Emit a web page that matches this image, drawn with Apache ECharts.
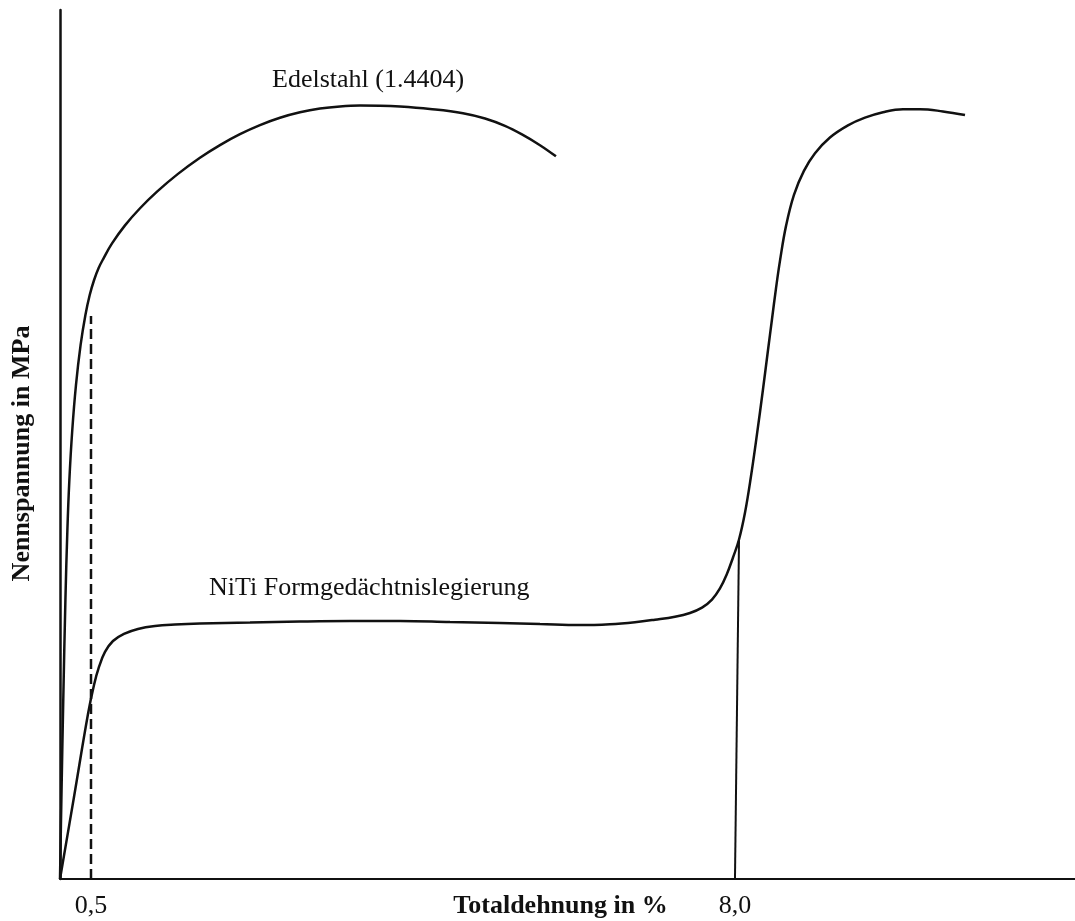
<!DOCTYPE html>
<html>
<head>
<meta charset="utf-8">
<script src="https://cdn.jsdelivr.net/npm/echarts@6/dist/echarts.min.js"></script>
<style>
  html, body { margin: 0; padding: 0; background: #fff; }
  #chart { width: 1075px; height: 921px; }
</style>
</head>
<body>
<div id="chart"></div>
<script>
// Strain in %, nominal stress in MPa (schematic)
const xTickValues = [0.5, 8.0];
const steelCurve = [
  [0.139, 0], [0.155, 63.6], [0.177, 144.2], [0.202, 224.7], [0.225, 281.1],
  [0.248, 321.4], [0.282, 361.7], [0.325, 397.9], [0.379, 430.2], [0.435, 454.3],
  [0.485, 470.4], [0.536, 482.5], [0.589, 492.2], [0.648, 500.2], [0.745, 512.0],
  [0.896, 526.5], [1.071, 540.3], [1.269, 553.7], [1.513, 568.0], [1.769, 581.0],
  [2.002, 591.2], [2.235, 600.0], [2.468, 607.3], [2.701, 613.2], [2.934, 617.6],
  [3.167, 620.6], [3.400, 622.3], [3.633, 623.0], [3.866, 622.9], [4.099, 622.3],
  [4.448, 620.3], [4.832, 616.9], [5.089, 612.6], [5.321, 606.7], [5.519, 599.8],
  [5.729, 591.1], [5.915, 582.1]
];
const nitiCurve = [
  [0.139, 0], [0.302, 66.1], [0.465, 132.9], [0.535, 156.3], [0.593, 170.8],
  [0.663, 182.9], [0.756, 191.7], [0.884, 197.4], [1.047, 201.4], [1.245, 203.8],
  [1.478, 205.0], [1.769, 205.8], [2.352, 206.6], [2.934, 207.4], [3.516, 207.8],
  [4.099, 207.8], [4.681, 207.0], [5.263, 206.2], [5.729, 205.4], [6.195, 204.6],
  [6.544, 205.3], [6.835, 206.9], [7.068, 208.9], [7.301, 211.3], [7.476, 214.3],
  [7.616, 218.6], [7.732, 225.1], [7.825, 234.1], [7.907, 245.9], [7.977, 259.0],
  [8.047, 273.5], [8.117, 295.2], [8.186, 324.2], [8.256, 358.1], [8.326, 394.3],
  [8.384, 425.7], [8.431, 450.9], [8.477, 475.4], [8.524, 497.9], [8.594, 525.9],
  [8.687, 551.1], [8.803, 570.4], [8.932, 584.6], [9.106, 597.3], [9.316, 607.1],
  [9.514, 613.3], [9.724, 617.7], [9.957, 620.1], [10.155, 620.1], [10.422, 618.3],
  [10.679, 615.4]
];
const steelMarker = [[0.5, 0], [0.5, 453.5]];
const nitiMarker = [[8.0, 0], [8.047, 273.5]];
const steelName = 'Edelstahl (1.4404)';
const nitiName = 'NiTi Formgedächtnislegierung';
const xTitle = 'Totaldehnung in %';
const yTitle = 'Nennspannung in MPa';

const serif = '"Liberation Serif", "Times New Roman", serif';
const ink = '#111';

const chart = echarts.init(document.getElementById('chart'), null, { renderer: 'canvas' });
chart.setOption({
  backgroundColor: '#fff',
  animation: false,
  grid: { left: 60, right: 0, top: 10, bottom: 42, containLabel: false, outerBoundsMode: 'none' },
  xAxis: {
    type: 'value',
    min: 0.139,
    max: 11.96,
    name: xTitle,
    nameLocation: 'middle',
    nameGap: 14,
    nameMoveOverlap: false,
    nameTextStyle: {
      fontFamily: serif, fontWeight: 'bold', fontSize: 26, color: ink,
      verticalAlign: 'top', padding: [0, 14, 0, 0]
    },
    axisLine: { show: true, onZero: false, lineStyle: { color: ink, width: 2 } },
    axisTick: { show: false },
    splitLine: { show: false },
    axisLabel: {
      customValues: xTickValues,
      margin: 14,
      fontFamily: serif,
      fontSize: 26,
      color: ink,
      formatter: v => v.toFixed(1).replace('.', ',')
    }
  },
  yAxis: {
    type: 'value',
    min: 0,
    max: 700,
    name: yTitle,
    nameLocation: 'middle',
    nameGap: 25,
    nameMoveOverlap: false,
    nameTextStyle: {
      fontFamily: serif, fontWeight: 'bold', fontSize: 26, color: ink,
      padding: [0, 18, 0, 0]
    },
    axisLine: { show: true, onZero: false, lineStyle: { color: ink, width: 2.5 } },
    axisTick: { show: false },
    axisLabel: { show: false },
    splitLine: { show: false }
  },
  series: [
    {
      name: steelName,
      type: 'line',
      data: steelCurve,
      smooth: 0.4,
      showSymbol: false,
      lineStyle: { color: ink, width: 2.5 }
    },
    {
      name: nitiName,
      type: 'line',
      data: nitiCurve,
      smooth: 0.4,
      showSymbol: false,
      lineStyle: { color: ink, width: 2.5 }
    },
    {
      name: 'steel-0.5',
      type: 'line',
      data: steelMarker,
      showSymbol: false,
      lineStyle: { color: ink, width: 2.5, type: [10, 5] }
    },
    {
      name: 'niti-8.0',
      type: 'line',
      data: nitiMarker,
      showSymbol: false,
      lineStyle: { color: ink, width: 2 }
    }
  ],
  graphic: [
    {
      type: 'text', left: 272, top: 67,
      style: { text: steelName, font: '26px ' + serif, fill: ink }
    },
    {
      type: 'text', left: 209, top: 575,
      style: { text: nitiName, font: '26px ' + serif, fill: ink }
    }
  ]
});
</script>
</body>
</html>
